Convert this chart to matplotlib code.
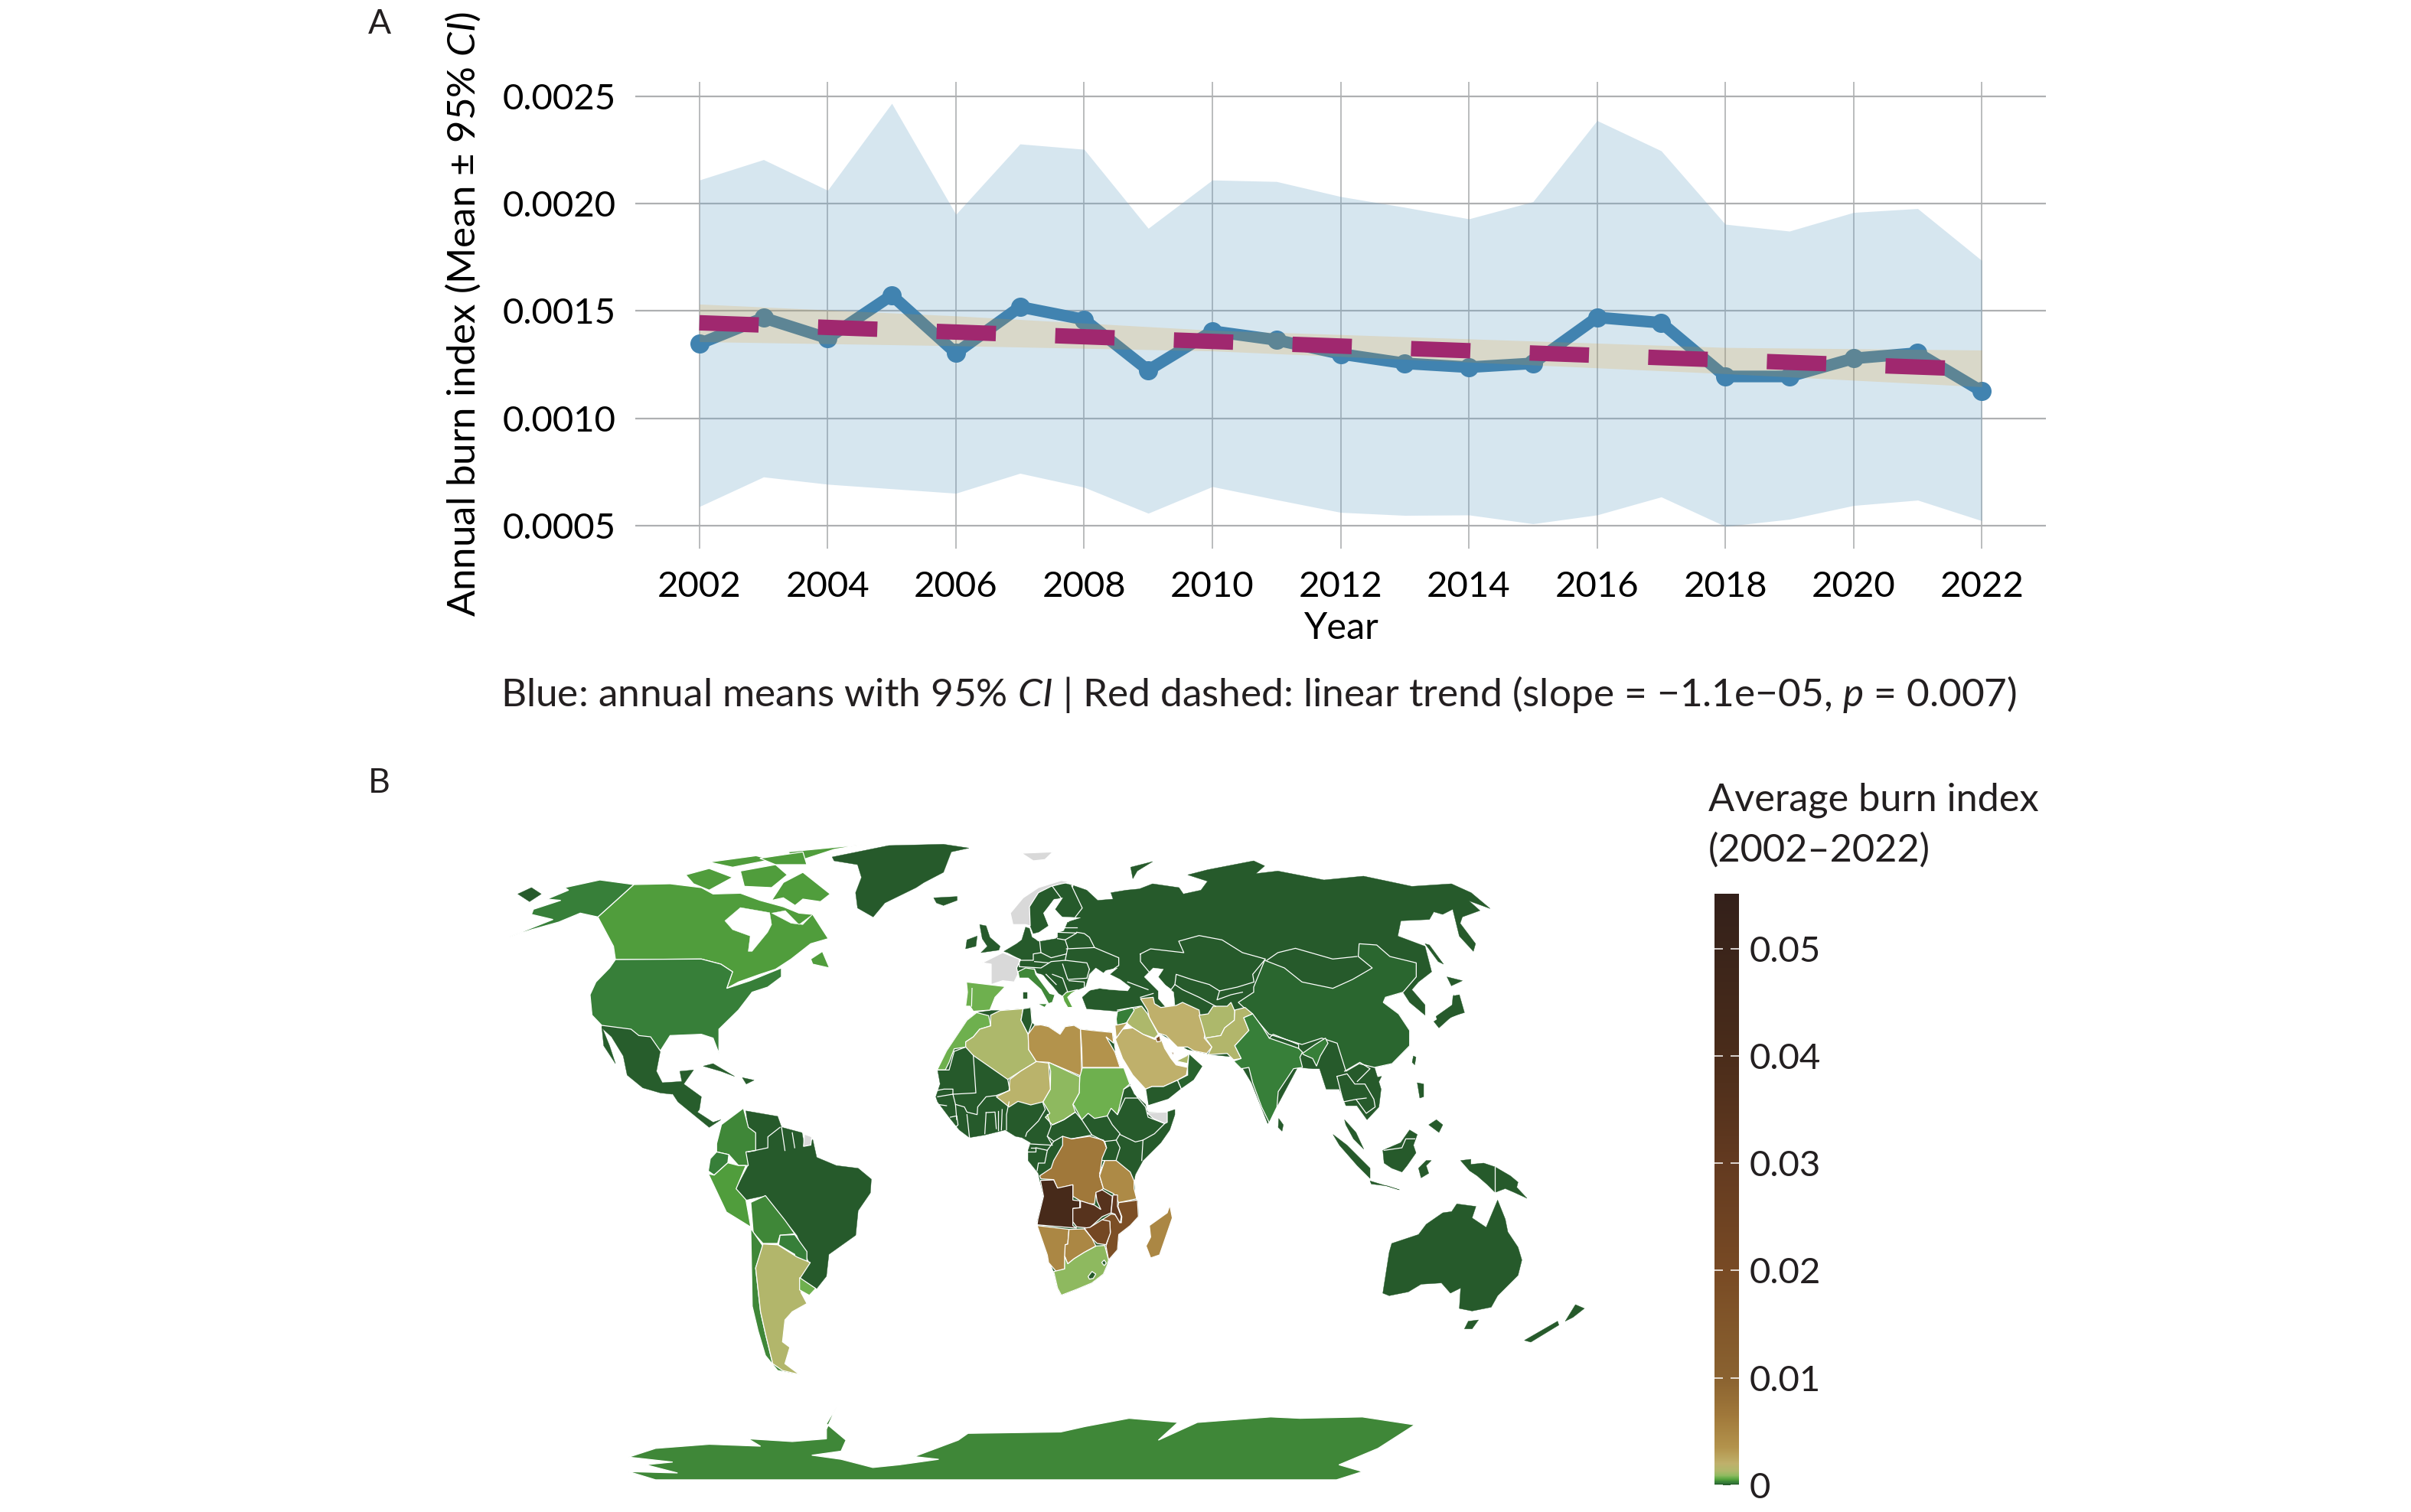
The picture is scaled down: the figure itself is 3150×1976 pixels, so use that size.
import numpy as np
import matplotlib
matplotlib.use("Agg")
import matplotlib.pyplot as plt
from matplotlib.colors import LinearSegmentedColormap, Normalize
from matplotlib.cm import ScalarMappable

plt.rcParams['font.family'] = ['Lato', 'DejaVu Sans']
plt.rcParams['mathtext.fontset'] = 'custom'
plt.rcParams['mathtext.rm'] = 'Lato'
plt.rcParams['mathtext.it'] = 'Lato:italic'
plt.rcParams['text.color'] = '#231f20'
W, H = 3150, 1976

# ---------- panel A data ----------
years = np.arange(2002, 2023)
annual_mean = [.001347, .001468, .001373, .001573, .001304, .001519, .001460, .001224, .001406, .001365, .001300,
               .001256, .001238, .001256, .001470, .001445, .001195, .001195, .001279, .001304, .001126]
ci_upper = [.00211, .002205, .002062, .002467, .00195, .002278, .002253, .001885, .00211, .002103, .002033,
            .001983, .001929, .002009, .002387, .002246, .001904, .001872, .001959, .001977, .001735]
ci_lower = [.000589, .000727, .000693, .000672, .000651, .000744, .000679, .000558, .000682, .000621, .000562,
            .000548, .00055, .000509, .00055, .000634, .000497, .00053, .000594, .000619, .000523]
trend_years = [2002, 2022]
trend_values = [.001445, .001228]
band_years = [2002, 2006, 2010, 2014, 2018, 2022]
band_upper = [.001532, .001477, .00141, .00137, .00133, .001318]
band_lower = [.001357, .001338, .001314, .001262, .001208, .001147]
x_ticks = list(range(2002, 2023, 2))
y_ticks = [.0005, .0010, .0015, .0020, .0025]

# ---------- panel B data ----------
cb_ticks = [0, .01, .02, .03, .04, .05]
cb_labels = ['0', '0.01', '0.02', '0.03', '0.04', '0.05']
cb_max = .0551
cmap_values = [0, .00012, .00025, .00035, .0005, .0007, .0009, .0013, .002, .0035, .0065, .01, .02, .03, .04, .0551]
cmap_colors = ['#265a2b', '#2a672f', '#38813a', '#3f8738', '#52a03c', '#6eb04e', '#90ba60', '#aeb86b', '#bfb06b',
               '#b3934c', '#a0783a', '#8a6230', '#784a24', '#633a20', '#4a2c1a', '#33201a']

burn_index = {
    'Canada': .0005, 'USA': .00025, 'Alaska': .00025, 'Mexico': .00003, 'Greenland': .00002,
    'Brazil': .00002, 'Colombia': .00035, 'Ecuador': .00025, 'Peru': .0005, 'Bolivia': .00035, 'Paraguay': .00025,
    'Argentina': .0015, 'Chile': .00035, 'Uruguay': .0007, 'Africa': .00002, 'Morocco': .0007, 'Algeria': .0013,
    'Libya': .0035, 'Egypt': .0035, 'Sudan': .00072, 'Chad': .0009, 'Niger': .0018, 'DRC': .0065, 'Tanzania': .0045,
    'Angola': .042, 'Zambia': .035, 'Malawi': .03, 'Mozambique': .018, 'Zimbabwe': .022, 'Namibia': .0048,
    'Botswana': .0048, 'South Africa': .0009, 'Madagascar': .0048, 'Asia': .00002, 'China': .00012, 'India': .00025,
    'Iran': .002, 'Iraq': .0013, 'Syria': .00025, 'Saudi Arabia': .002, 'Jordan': .0025, 'Kuwait': .018, 'Qatar': .01,
    'UAE': .0013, 'Oman': .0001, 'Afghanistan': .0013, 'Pakistan': .0015, 'Spain': .0007, 'Italy': .00035,
    'Greece': .0006, 'Australia': .00002, 'Antarctica': .00035,
}
no_data = np.nan
FRAMES = {'Z3': (600, 1080, 1.96, 3.0), 'Z4': (1150, 1080, 1.742, 3.0), 'Z5': (780, 1400, 1.568, 2.8),
          'Z6': (1700, 1300, 3.0, 3.0), 'Z8': (1260, 1130, 3.0, 3.0), 'Z9': (1200, 1300, 3.0, 3.0)}

# land outlines: (region, frame, vertices)
land_bases = [
 ('Asia', 'Z4', [(440,232),(470,250),(495,290),(530,285),(525,260),(560,250),(590,245),(620,225),(680,240),(690,265),(730,250),(745,215),(700,190),(745,170),(850,135),(875,155),(855,185),(905,175),(1010,210),(1100,195),(1210,235),(1300,225),(1345,260),(1388,322),(1340,292),(1365,330),(1325,355),(1320,380),(1355,460),(1350,490),(1318,430),(1303,325),(1280,345),(1260,335),(1250,365),(1185,370),(1178,430),(1240,470),(1255,570),(1225,610),(1210,640),(1240,700),(1240,740),(1205,690),(1190,650),(1150,670),(1145,690),(1180,735),(1205,800),(1205,860),(1165,930),(1125,945),(1140,1030),(1135,1100),(1108,1150),(1085,1095),(1060,1095),(1045,1030),(1015,1030),(1000,950),(985,950),(950,945),(882,1165),(845,1005),(810,905),(755,895),(700,875),(640,815),(610,790),(540,725),(470,715),(460,670),(480,640),(430,500),(430,300)]),
 ('Asia', 'Z4', [(575,205),(570,160),(620,138),(585,175)]),
 ('Asia', 'Z8', [(470,480),(445,490),(400,500),(395,520),(370,505),(350,480),(305,430),(285,425),(275,405),(210,425),(205,405),(222,372),(170,345),(155,340),(205,310),(225,295),(240,245),(255,250),(265,285),(300,300),(360,290),(365,265),(390,260),(405,225),(440,240),(470,230),(600,200),(600,420)]),
 ('Asia', 'Z8', [(258,240),(255,165),(290,110),(340,85),(380,70),(420,80),(460,170),(440,205),(390,210),(355,175),(385,130),(350,135),(310,190),(330,240),(300,262),(270,270)]),
 ('Asia', 'Z8', [(60,235),(85,240),(100,285),(140,320),(135,335),(65,345),(90,320),(70,290)]),
 ('Asia', 'Z8', [(10,295),(50,280),(45,320),(5,330)]),
 ('Asia', 'Z8', [(232,500),(245,500),(245,525),(232,525)]),
 ('Asia', 'Z8', [(1232,995),(1250,1020),(1245,1045),(1230,1030)]),
 ('Asia', 'Z4', [(1240,460),(1250,465),(1282,540),(1270,530)]),
 ('Asia', 'Z4', [(1290,590),(1325,605),(1300,625)]),
 ('Asia', 'Z4', [(1305,660),(1325,730),(1270,770),(1265,745),(1310,690)]),
 ('Asia', 'Z6', [(520,105),(590,60),(595,5),(620,0),(640,70),(590,85),(540,130)]),
 ('Asia', 'Z6', [(440,240),(450,245),(445,275),(435,265)]),
 ('Asia', 'Z6', [(290,325),(315,320),(305,340)]),
 ('Asia', 'Z6', [(170,490),(215,540),(245,605),(205,565),(175,510)]),
 ('Asia', 'Z6', [(125,548),(180,590),(270,680),(270,720),(220,670),(150,590)]),
 ('Asia', 'Z6', [(270,730),(385,765),(340,750),(275,742)]),
 ('Asia', 'Z6', [(320,610),(390,580),(425,530),(455,548),(440,590),(450,620),(415,670),(395,695),(355,680),(325,660)]),
 ('Asia', 'Z6', [(460,680),(490,650),(510,650),(490,670),(500,700),(470,718)]),
 ('Asia', 'Z6', [(455,345),(480,350),(480,400),(465,405)]),
 ('Asia', 'Z6', [(500,510),(530,490),(555,510),(540,540)]),
 ('Asia', 'Z6', [(625,650),(665,645),(665,665),(715,660),(760,675),(820,710),(850,735),(845,755),(885,798),(835,775),(800,760),(760,775),(730,745),(690,710),(660,690)]),
 ('Australia', 'Z6', [(320,1170),(345,1010),(355,975),(460,940),(490,900),(555,855),(590,850),(610,820),(685,830),(670,875),(725,912),(770,805),(800,880),(810,930),(850,990),(865,1040),(850,1100),(770,1180),(745,1225),(670,1240),(620,1230),(625,1150),(585,1170),(550,1130),(470,1135),(420,1165),(345,1180)]),
 ('Australia', 'Z6', [(640,1310),(655,1280),(695,1275),(670,1310)]),
 ('Australia', 'Z6', [(875,1355),(1005,1280),(1010,1295),(900,1362)]),
 ('Australia', 'Z6', [(1035,1280),(1075,1215),(1110,1230),(1065,1265)]),
 ('Africa', 'Z9', [(228,70),(285,62),(320,62),(410,55),(440,50),(445,110),(455,120),(480,118),(510,125),(555,155),(575,125),(610,120),(635,135),(680,140),(730,145),(760,148),(770,225),(790,285),(805,290),(828,350),(845,390),(890,430),(895,455),(900,460),(975,460),(1005,450),(1005,470),(985,530),(950,580),(880,650),(850,705),(845,730),(850,800),(860,810),(862,870),(830,905),(785,940),(780,1000),(745,1040),(740,1060),(725,1095),(680,1130),(620,1155),(560,1178),(545,1150),(530,1085),(505,1020),(470,905),(465,890),(490,790),(475,725),(470,700),(430,650),(430,610),(440,580),(405,560),(380,555),(340,530),(260,550),(200,560),(160,530),(120,480),(75,420),(68,400),(85,350),(75,295),(110,220),(170,130),(190,100)]),
 ('Brazil', 'Z5', [(305,145),(370,165),(378,205),(420,225),(425,275),(442,250),(450,315),(490,345),(535,355),(562,395),(560,445),(535,510),(530,600),(475,670),(470,750),(450,795),(415,755),(435,700),(410,600),(385,545),(345,455),(305,470),(285,430),(310,345),(305,295),(325,290),(325,225),(310,205)]),
 ('Greenland', 'Z3', [(955,120),(1100,75),(1240,70),(1305,85),(1260,100),(1240,180),(1190,220),(1170,240),(1090,300),(1060,355),(1020,320),(1015,260),(1030,200),(1020,150),(960,135)]),
 ('Greenland', 'Z3', [(1215,280),(1275,275),(1275,290),(1240,310),(1222,300)]),
 ('Greenland', 'Z3', [(150,265),(185,240),(210,265),(180,295)]),
 ('Mexico', 'Z3', [(365,780),(440,795),(460,820),(490,825),(515,880),(505,960),(520,1005),(570,1000),(565,960),(600,955),(575,1010),(545,1050),(515,1045),(470,1025),(430,975),(420,900),(390,825),(365,790)]),
 ('Mexico', 'Z3', [(365,785),(385,860),(400,930),(370,860)]),
 ('Mexico', 'Z3', [(545,1045),(575,1010),(620,1060),(615,1110),(610,1120),(650,1160),(670,1150),(640,1180),(600,1130),(560,1080)]),
 ('Mexico', 'Z3', [(625,940),(650,930),(705,980),(670,960)]),
 ('Mexico', 'Z3', [(725,985),(755,995),(735,1010)]),
]
water_bodies = [
 ('Z8', [(475,480),(490,430),(515,405),(545,425),(555,415),(600,405),(570,430),(610,450),(650,480),(640,495),(570,490),(530,485),(480,495)]),
 ('Z8', [(705,440),(740,405),(780,410),(760,440),(790,475),(820,500),(825,550),(790,560),(760,525),(760,495)]),
 ('Z8', [(270,285),(300,260),(330,240),(310,190),(350,140),(385,130),(355,175),(380,205),(455,208),(400,225),(385,260),(365,265),(365,285),(290,300)]),
 ('Z8', [(280,430),(310,435),(355,500),(330,490)]),
]
land_regions = [
 ('Canada', 'Z3', [(447,228),(540,225),(620,240),(650,265),(720,262),(770,290),(830,315),(870,340),(905,345),(945,440),(900,460),(850,520),(810,560),(770,580),(715,610),(685,635),(700,570),(670,540),(620,520),(400,522),(395,470),(355,355)]),
 ('Canada', 'Z3', [(800,290),(830,220),(880,180),(950,265),(925,295),(880,285),(860,310),(830,280)]),
 ('Canada', 'Z3', [(840,100),(1030,72),(960,90),(880,130),(860,120)]),
 ('Canada', 'Z3', [(580,190),(640,165),(700,200),(640,250),(600,225)]),
 ('Canada', 'Z3', [(640,140),(760,115),(800,130),(700,160)]),
 ('Canada', 'Z3', [(720,175),(810,150),(840,190),(800,240),(730,235)]),
 ('Canada', 'Z3', [(770,125),(880,100),(890,150),(810,150)]),
 ('Canada', 'Z3', [(900,520),(930,490),(948,555),(905,540)]),
 ('Alaska', 'Z3', [(447,228),(355,355),(310,340),(255,375),(185,405),(125,435),(240,365),(185,345),(190,325),(260,290),(225,285),(280,250),(270,240),(360,210)]),
 ('USA', 'Z3', [(400,522),(620,520),(670,540),(700,570),(685,635),(745,605),(825,555),(825,590),(790,630),(750,650),(715,720),(665,795),(665,890),(650,830),(620,815),(540,820),(515,880),(490,825),(460,820),(440,795),(365,780),(340,740),(335,660),(350,610),(385,555)]),
 ('Colombia', 'Z5', [(300,135),(310,205),(325,225),(325,290),(305,295),(310,345),(290,345),(270,305),(245,295),(245,265),(255,195)]),
 ('Ecuador', 'Z5', [(245,295),(270,305),(268,335),(240,380),(228,365),(232,320)]),
 ('Peru', 'Z5', [(268,335),(290,345),(305,345),(285,430),(305,470),(315,570),(265,515),(228,375),(240,380)]),
 ('Bolivia', 'Z5', [(315,480),(345,455),(385,545),(405,595),(375,600),(370,630),(340,630),(320,590)]),
 ('Paraguay', 'Z5', [(375,600),(405,598),(430,660),(430,710),(405,712),(405,670),(372,635)]),
 ('Chile', 'Z5', [(315,575),(340,640),(325,720),(335,880),(345,960),(360,1070),(385,1085),(410,1110),(370,1095),(345,1040),(330,950),(318,860)]),
 ('Argentina', 'Z5', [(340,632),(370,635),(410,680),(437,700),(415,760),(418,810),(430,850),(400,880),(385,910),(380,990),(395,1010),(385,1070),(415,1110),(380,1095),(360,1070),(345,960),(335,880),(325,720)]),
 ('Uruguay', 'Z5', [(415,755),(448,795),(435,820),(415,800)]),
 ('French Guiana', 'Z5', [(425,230),(440,240),(438,270),(423,275)]),
 ('Antarctica', 'Z5', [(65,1412),(120,1380),(230,1365),(335,1372),(310,1345),(400,1355),(470,1345),(470,1310),(490,1230),(470,1290),(510,1350),(500,1390),(440,1405),(500,1420),(565,1450),(620,1440),(700,1420),(650,1410),(740,1350),(760,1325),(950,1320),(1000,1300),(1090,1270),(1190,1285),(1150,1350),(1230,1285),(1380,1265),(1440,1270),(1568,1265),(1675,1294),(1600,1380),(1520,1440),(1568,1465),(1515,1495),(120,1495),(65,1465),(165,1470),(100,1440),(155,1430)]),
 ('Morocco', 'Z9', [(228,70),(275,82),(283,122),(240,135),(215,165),(185,185),(185,205),(140,212),(120,265),(105,295),(73,295),(110,220),(170,130),(190,100)]),
 ('Algeria', 'Z9', [(283,80),(320,62),(410,55),(402,100),(430,155),(432,215),(462,262),(400,300),(350,332),(215,238),(185,205),(185,185),(215,165),(240,135),(283,122)]),
 ('Africa', 'Z9', [(410,55),(440,50),(445,110),(430,155),(402,100)]),
 ('Libya', 'Z9', [(455,120),(480,118),(510,125),(555,155),(575,125),(610,120),(635,135),(640,320),(510,265),(462,262),(432,215),(430,155)]),
 ('Egypt', 'Z9', [(635,135),(680,140),(730,145),(760,148),(765,190),(735,165),(770,225),(790,285),(642,285),(640,210)]),
 ('Sudan', 'Z9', [(642,287),(805,287),(828,350),(805,370),(780,470),(755,445),(740,475),(690,485),(665,465),(640,490),(610,435),(605,430),(630,385),(632,322)]),
 ('Chad', 'Z9', [(510,265),(632,322),(630,385),(605,430),(615,460),(570,490),(525,510),(497,480),(515,465),(488,420),(517,370),(518,300)]),
 ('Niger', 'Z9', [(462,262),(510,268),(517,370),(488,420),(440,432),(390,418),(355,440),(305,400),(355,375),(358,332),(400,300)]),
 ('DRC', 'Z9', [(565,555),(600,565),(670,555),(725,570),(737,600),(720,640),(710,710),(725,760),(695,780),(690,820),(670,820),(635,808),(605,790),(605,745),(545,760),(530,725),(480,722),(475,710),(520,680),(530,650),(565,590)]),
 ('Tanzania', 'Z9', [(730,650),(775,650),(830,695),(845,730),(845,760),(855,800),(785,815),(765,780),(725,760),(710,710)]),
 ('Angola', 'Z9', [(478,728),(530,726),(545,758),(605,745),(605,805),(632,808),(632,835),(605,838),(605,905),(620,915),(465,902),(468,880),(490,790)]),
 ('Zambia', 'Z9', [(695,775),(720,765),(760,790),(755,855),(720,870),(670,915),(620,910),(605,890),(605,838),(635,835),(635,808),(690,825),(715,842),(700,810)]),
 ('Mozambique', 'Z9', [(785,815),(858,805),(862,870),(830,905),(785,940),(780,1000),(745,1040),(735,985),(752,930),(750,890),(720,882),(755,860),(770,862),(795,895),(797,870),(782,830)]),
 ('Malawi', 'Z9', [(762,785),(780,785),(780,830),(795,870),(790,895),(770,860),(755,855)]),
 ('Zimbabwe', 'Z9', [(720,882),(750,888),(752,935),(735,980),(700,975),(680,955),(650,915),(672,912)]),
 ('Namibia', 'Z9', [(465,905),(590,920),(585,978),(575,980),(573,1075),(540,1085),(510,1050),(505,1020)]),
 ('Botswana', 'Z9', [(590,920),(650,918),(680,955),(695,985),(650,1010),(610,1035),(585,1055),(573,1025),(575,980),(585,978)]),
 ('South Africa', 'Z9', [(697,985),(730,983),(745,1040),(740,1060),(725,1095),(680,1130),(620,1155),(560,1178),(545,1150),(530,1085),(573,1075),(573,1025),(585,1055),(610,1035),(650,1010)]),
 ('Africa', 'Z9', [(665,1105),(680,1085),(695,1095),(685,1112),(670,1115)]),
 ('Africa', 'Z9', [(718,1050),(728,1040),(736,1052),(728,1062)]),
 ('Madagascar', 'Z9', [(985,825),(995,875),(945,1020),(910,1032),(892,985),(910,950),(905,905),(940,880),(975,855)]),
 ('Somaliland', 'Z9', [(895,462),(975,460),(975,500),(965,505),(920,485)]),
 ('China', 'Z4', [(850,630),(875,525),(920,555),(960,610),(1030,635),(1075,600),(1120,555),(1088,510),(1090,460),(1130,465),(1160,510),(1220,535),(1220,590),(1190,650),(1150,670),(1145,690),(1180,735),(1205,800),(1205,860),(1165,930),(1125,945),(1090,930),(1060,960),(1040,850),(1005,830),(960,855),(885,815),(850,745),(815,690),(850,650)]),
 ('Iran', 'Z8', [(690,525),(740,520),(745,545),(770,560),(830,552),(855,540),(920,570),(925,600),(945,655),(940,680),(970,715),(950,740),(900,730),(875,715),(835,715),(790,670),(760,660),(725,600),(718,570)]),
 ('Iraq', 'Z8', [(665,565),(695,555),(718,585),(725,600),(760,665),(745,680),(700,665),(660,640),(635,620)]),
 ('Syria', 'Z8', [(600,575),(660,560),(665,572),(635,620),(598,632),(595,605)]),
 ('Saudi Arabia', 'Z8', [(592,685),(620,645),(660,640),(700,665),(745,685),(770,680),(785,720),(810,760),(830,785),(875,795),(870,825),(835,845),(780,870),(735,870),(710,880),(660,825),(620,760)]),
 ('Jordan', 'Z8', [(590,630),(640,620),(618,648),(595,680)]),
 ('Kuwait', 'Z8', [(750,680),(765,670),(770,692),(755,695)]),
 ('Qatar', 'Z8', [(812,735),(820,735),(818,755)]),
 ('UAE', 'Z8', [(830,770),(870,750),(880,740),(875,780)]),
 ('Oman', 'Z8', [(880,740),(935,790),(900,845),(850,880),(835,845),(875,825),(875,795)]),
 ('Asia', 'Z8', [(710,880),(735,870),(780,870),(835,845),(850,880),(800,920),(720,945)]),
 ('Afghanistan', 'Z8', [(920,590),(955,585),(975,555),(1030,555),(1045,540),(1060,575),(1058,610),(1020,640),(1005,670),(945,680),(935,640)]),
 ('Pakistan', 'Z8', [(945,680),(1005,670),(1020,640),(1058,610),(1060,570),(1100,560),(1130,585),(1095,600),(1115,650),(1060,710),(1085,760),(1055,765),(1030,740),(955,745),(970,715)]),
 ('India', 'Z8', [(1095,600),(1130,585),(1170,640),(1195,680),(1310,720),(1325,735),(1315,755),(1325,795),(1290,800),(1230,890),(1225,950),(1195,1012),(1165,950),(1130,855),(1115,795),(1085,800),(1055,770),(1085,760),(1060,710),(1115,650)]),
 ('India', 'Z8', [(1325,740),(1375,705),(1415,680),(1425,700),(1395,750),(1380,790),(1365,760),(1330,745)]),
 ('Spain', 'Z8', [(8,460),(160,478),(120,520),(100,570),(35,575),(22,555),(5,555),(12,500)]),
 ('France', 'Z8', [(70,385),(150,345),(220,372),(205,405),(210,430),(195,460),(150,455),(105,470),(105,390)]),
 ('Norway', 'Z8', [(180,190),(230,130),(290,90),(380,62),(415,68),(380,75),(340,85),(290,110),(255,165),(258,240),(240,235),(190,235)]),
 ('Svalbard', 'Z3', [(1440,105),(1520,100),(1500,130),(1470,135)]),
 ('Italy', 'Z8', [(210,420),(240,405),(275,410),(280,430),(335,505),(355,510),(345,540),(330,545),(300,490),(250,445),(215,445)]),
 ('Italy', 'Z8', [(285,545),(325,545),(315,560)]),
 ('Greece', 'Z8', [(385,515),(400,500),(445,490),(420,505),(405,520),(425,560),(405,560),(390,535)]),
]
inland_seas = [
 ('Z3', [(680,370),(720,318),(795,338),(800,385),(790,415),(750,490),(740,490),(745,430),(700,405)]),
 ('Z3', [(800,340),(835,330),(870,385),(905,345),(880,385),(850,380)]),
 ('Z3', [(850,520),(905,470),(880,520),(830,560)]),
]
border_lines = [
 ('Z9', [(75,295),(120,295),(140,222),(185,205)]), ('Z9', [(215,238),(225,385),(135,390),(135,370),(100,370),(75,375)]),
 ('Z9', [(350,332),(358,375),(305,395),(265,400),(232,440),(230,470),(190,460),(180,440),(145,430),(135,390)]),
 ('Z9', [(355,420),(345,470),(345,530)]), ('Z9', [(488,425),(497,450),(470,495),(425,540),(420,555)]),
 ('Z9', [(312,455),(312,530)]), ('Z9', [(328,450),(325,530)]), ('Z9', [(265,462),(300,460),(305,525)]),
 ('Z9', [(265,462),(260,545)]), ('Z9', [(190,470),(200,560)]), ('Z9', [(75,400),(135,390)]),
 ('Z9', [(125,480),(150,475),(155,510),(145,520)]), ('Z9', [(145,430),(150,490)]),
 ('Z9', [(505,470),(520,515),(505,555),(525,590),(440,585)]),
 ('Z9', [(525,510),(570,490),(615,460),(640,490),(680,550),(600,565)]), ('Z9', [(505,555),(530,575),(565,555)]),
 ('Z9', [(680,550),(730,575),(775,570),(790,545),(760,510),(740,475)]),
 ('Z9', [(780,470),(810,405),(860,405),(890,440),(900,480),(965,505),(925,545),(880,570),(850,577),(790,548)]),
 ('Z9', [(880,570),(875,650)]), ('Z9', [(775,570),(790,600),(775,648)]), ('Z9', [(730,575),(737,600)]),
 ('Z9', [(720,650),(730,650),(710,700)]), ('Z9', [(440,600),(460,600),(460,615),(430,615)]),
 ('Z9', [(460,600),(505,610),(495,660),(470,660),(465,690)]), ('Z9', [(505,610),(530,575)]),
 ('Z9', [(75,430),(110,435)]), ('Z9', [(805,370),(830,355),(860,405)]),
 ('Z5', [(375,205),(350,240),(350,280),(310,295)]), ('Z5', [(378,205),(385,290)]), ('Z5', [(400,225),(405,280)]),
 ('Z8', [(30,485),(28,555)]), ('Z8', [(295,300),(300,345),(270,350),(270,375),(215,375)]),
 ('Z8', [(300,345),(340,365),(400,350),(405,325),(395,295)]), ('Z8', [(400,330),(510,325),(490,285),(470,270),(440,265)]),
 ('Z8', [(400,350),(395,375),(480,385),(490,410)]), ('Z8', [(510,325),(605,365),(605,395),(555,430)]),
 ('Z8', [(365,265),(440,268),(395,295),(365,290)]), ('Z8', [(390,245),(440,245)]),
 ('Z8', [(215,375),(215,400),(300,405),(340,380),(395,375)]), ('Z8', [(275,380),(330,385)]),
 ('Z8', [(385,390),(405,450),(480,445),(490,410)]), ('Z8', [(410,455),(470,460),(470,490)]),
 ('Z8', [(345,430),(385,445),(405,500)]), ('Z8', [(320,430),(360,470)]), ('Z8', [(345,85),(378,130)]),
 ('Z8', [(420,82),(462,170),(435,205)]), ('Z8', [(640,460),(720,490)]), ('Z8', [(690,520),(740,505)]),
 ('Z8', [(600,570),(690,555)]),
 ('Z8', [(690,350),(730,330),(860,345),(840,300),(920,278),(1010,295),(1090,345),(1180,370),(1130,430),(1135,460),(1070,480),(1000,495),(960,470),(890,450),(830,430),(825,470),(810,490),(740,440),(690,380),(690,350)]),
 ('Z8', [(825,470),(855,490),(920,520),(985,555)]), ('Z8', [(1000,495),(990,530),(1045,510),(1090,500)]),
 ('Z8', [(1195,680),(1210,665),(1310,705),(1310,720)]),
 ('Z4', [(880,525),(905,495),(945,478),(1030,520),(1085,510)]),
 ('Z6', [(140,320),(180,310),(210,350),(250,350),(285,410),(290,440),(255,465),(215,410),(255,405)]),
 ('Z6', [(170,300),(230,265),(270,290),(220,340)]), ('Z6', [(140,320),(165,420),(215,410)]),
 ('Z6', [(325,610),(395,600),(410,565),(445,565)]), ('Z6', [(760,675),(760,775)]),
]


def to_px(frame, pts):
    ox, oy, sx, sy = FRAMES[frame]
    p = np.asarray(pts, float)
    return ox + p[:, 0] / sx, oy + p[:, 1] / sy


fig = plt.figure(figsize=(W / 100, H / 100), dpi=100, facecolor='white')


def rect(l, t, r, b):
    return [l / W, 1 - b / H, (r - l) / W, (b - t) / H]


# ---------- panel A ----------
ax = fig.add_axes(rect(830, 107, 2673, 717), zorder=2)
ax.set_xlim(2001, 2023)
ax.set_ylim(.000393, .002567)
for s in ax.spines.values():
    s.set_visible(False)
ax.set_xticks(x_ticks)
ax.set_yticks(y_ticks, [f'{v:.4f}' for v in y_ticks])
ax.xaxis.grid(True, color='#aeb0b2', lw=1.2, zorder=0)
ax.yaxis.grid(True, color='#aeb0b2', lw=1.6, zorder=0)
ax.set_axisbelow(True)
ax.tick_params(length=0, labelsize=34)
ax.tick_params(axis='x', pad=21)
ax.tick_params(axis='y', pad=18)
ax.fill_between(years, ci_lower, ci_upper, color='#6ba3c7', alpha=.27, lw=0, zorder=1)
ax.plot(years, annual_mean, color='#4183b0', lw=11, marker='o', ms=17, solid_joinstyle='miter', zorder=2)
ax.fill_between(band_years, band_lower, band_upper, color='#e89310', alpha=.17, lw=0, zorder=3)
ax.plot(trend_years, trend_values, color='#a0286f', lw=14.5, dashes=(3.85, 3.85), dash_capstyle='butt', zorder=4)
ax.set_ylabel('Annual burn index (Mean ± 95% $\\mathit{CI}$)', fontsize=36.7)
ax.yaxis.set_label_coords((630 - 830) / 1843, (717 - 410) / 610)
ax.set_xlabel('Year', fontsize=35)
ax.xaxis.set_label_coords((1752 - 830) / 1843, -(821 - 717) / 610)
ax.xaxis.label.set_verticalalignment('center')

fig.text(481 / W, 1 - 32 / H, 'A', fontsize=32, va='center', ha='left')
fig.text(481 / W, 1 - 1023 / H, 'B', fontsize=32, va='center', ha='left')
fig.text(1645 / W, 1 - 907 / H,
         'Blue: annual means with 95% $\\mathit{CI}$ | Red dashed: linear trend '
         '(slope = −1.1e−05, $\\mathit{p}$ = 0.007)', fontsize=37, va='center', ha='center')

# ---------- panel B ----------
cmap = LinearSegmentedColormap.from_list('burn', [(v / cb_max, c) for v, c in zip(cmap_values, cmap_colors)], N=2048)
norm = Normalize(0, cb_max)
mp = fig.add_axes([0, 0, 1, 1], zorder=1)
mp.set_xlim(0, W)
mp.set_ylim(H, 0)
mp.axis('off')


def region_color(name):
    v = burn_index.get(name, no_data)
    return '#d9d9d9' if np.isnan(v) else cmap(norm(v))


for name, frame, pts in land_bases:
    x, y = to_px(frame, pts)
    c = region_color(name)
    mp.fill(x, y, facecolor=c, edgecolor=c, lw=.3, zorder=1)
for frame, pts in water_bodies:
    x, y = to_px(frame, pts)
    mp.fill(x, y, facecolor='white', edgecolor='white', lw=.3, zorder=2)
for name, frame, pts in land_regions:
    x, y = to_px(frame, pts)
    mp.fill(x, y, facecolor=region_color(name), edgecolor='white', lw=.9, zorder=3)
for frame, pts in inland_seas:
    x, y = to_px(frame, pts)
    mp.fill(x, y, facecolor='white', edgecolor='white', lw=.3, zorder=3.5)
for frame, pts in border_lines:
    x, y = to_px(frame, pts)
    mp.plot(x, y, color='white', lw=.9, zorder=4)

cax = fig.add_axes(rect(2240, 1168, 2272, 1941), zorder=3)
cb = fig.colorbar(ScalarMappable(norm=norm, cmap=cmap), cax=cax)
cb.outline.set_visible(False)
cb.set_ticks(cb_ticks, labels=cb_labels)
cax.tick_params(axis='y', which='major', direction='in', left=True, right=True, length=8, width=1.1,
                color='white', labelcolor='#231f20', labelsize=34, pad=10)
fig.text(2232 / W, 1 - 1046 / H, 'Average burn index', fontsize=36.4, va='center', ha='left')
fig.text(2232 / W, 1 - 1111 / H, '(2002–2022)', fontsize=36.4, va='center', ha='left')

fig.savefig('out.png', dpi=100, facecolor='white')
